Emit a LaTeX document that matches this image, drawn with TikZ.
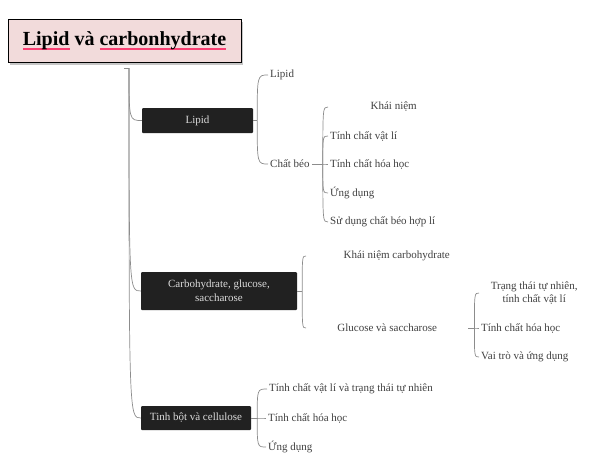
\documentclass[tikz,border=0pt]{standalone}
\usepackage{fontspec}
\setmainfont{Liberation Serif}
\usetikzlibrary{positioning,shadows}
\definecolor{titlepink}{rgb}{0.95, 0.86, 0.86}
\definecolor{spellred}{rgb}{0.98, 0.25, 0.45}
\definecolor{topicdark}{rgb}{0.13, 0.13, 0.13}
\definecolor{branchgray}{rgb}{0.55, 0.55, 0.55}
\definecolor{leafgray}{rgb}{0.25, 0.25, 0.25}
\newcommand\redmark[1]{\setbox0=\hbox{#1}\rlap{\textcolor{spellred}{\rule[-4.8pt]{\wd0}{1.5pt}}}\box0\relax}

\begin{document}
\begin{tikzpicture}[x=1pt,y=-1pt,
  topic/.style={fill=topicdark, text=white!86!black, rounded corners=1pt, inner sep=2pt,
    font=\fontsize{11}{14}\selectfont, align=center},
  leaf/.style={anchor=west, text=leafgray, inner sep=2pt,
    font=\fontsize{11}{13}\selectfont, align=center},
  branch/.style={draw=branchgray, line width=0.7pt}]
  \useasboundingbox (0,0) rectangle (600,475);

  % title
  \node[draw=black, line width=0.8pt, fill=titlepink, minimum width=233, minimum height=43,
    drop shadow={shadow xshift=2pt, shadow yshift=-3pt, opacity=0.45},
    font=\bfseries\fontsize{20}{22}\selectfont] (title) at (124.5,40.5)
    {\redmark{Lipid} và \redmark{carbonhydrate}};

  % trunk
  \coordinate (rootcap) at (124,68);
  \coordinate (root) at (129,68);
  \draw[branch] (rootcap) -- (root);

  \node[topic, minimum width=111, minimum height=25] (lipid) at (197.5,120.5) {Lipid};
  \node[topic, minimum width=156, minimum height=38] (carb) at (219,291) {Carbohydrate, glucose,\\saccharose};
  \node[topic, minimum width=110, minimum height=24] (tinhbot) at (196,418) {Tinh bột và cellulose};

  \foreach \topic in {lipid,carb,tinhbot}
  {
   \draw[branch] (root) .. controls (root |- \topic.west) and (root |- \topic.west) .. (\topic.west);
  }

  % Lipid
  \coordinate[right=4pt of lipid.east] (flipid);
  \node[leaf] (lipidleaf) at (268,75) {Lipid};
  \node[leaf] (chatbeo) at (268,164) {Chất béo};
  \coordinate[right=11pt of chatbeo.east] (fchatbeo);
  \node[leaf, minimum width=131] (khainiem) at (328,107) {Khái niệm};
  \node[leaf] (vatli) at (328,136) {Tính chất vật lí};
  \node[leaf] (hoahoc) at (328,164) {Tính chất hóa học};
  \node[leaf] (ungdung) at (328,193) {Ứng dụng};
  \node[leaf] (sudung) at (328,222) {Sử dụng chất béo hợp lí};

  % Carbohydrate
  \coordinate[right=5pt of carb.east] (fcarb);
  \node[leaf, minimum width=181] (khainiemcarb) at (306,256) {Khái niệm carbohydrate};
  \node[leaf, minimum width=162] (glucose) at (306,328) {Glucose và saccharose};
  \coordinate[right=6pt of glucose.east] (fglucose);
  \node[leaf, minimum width=110] (trangthai) at (479,293) {Trạng thái tự nhiên,\\tính chất vật lí};
  \node[leaf] (hoahocglu) at (479,328) {Tính chất hóa học};
  \node[leaf] (vaitro) at (479,357) {Vai trò và ứng dụng};

  % Tinh bot
  \coordinate[right=6pt of tinhbot.east] (ftinhbot);
  \node[leaf] (vatlitb) at (267,389) {Tính chất vật lí và trạng thái tự nhiên};
  \node[leaf] (hoahoctb) at (266,418) {Tính chất hóa học};
  \node[leaf] (ungdungtb) at (266,447) {Ứng dụng};

  \draw[branch] (lipid.east) -- (flipid);
  \draw[branch] (chatbeo) -- (fchatbeo);
  \draw[branch] (carb.east) -- (fcarb);
  \draw[branch] (glucose) -- (fglucose);
  \draw[branch] (tinhbot.east) -- (ftinhbot);

  \foreach \fork / \leaf in
  {
    flipid/lipidleaf, flipid/chatbeo,
    fchatbeo/khainiem, fchatbeo/vatli, fchatbeo/hoahoc, fchatbeo/ungdung, fchatbeo/sudung,
    fcarb/khainiemcarb, fcarb/glucose,
    fglucose/trangthai, fglucose/hoahocglu, fglucose/vaitro,
    ftinhbot/vatlitb, ftinhbot/hoahoctb, ftinhbot/ungdungtb}
  {
   \draw[branch] (\fork) .. controls (\fork |- \leaf.west) and (\fork |- \leaf.west) .. (\leaf.west);
  }

\end{tikzpicture}
\end{document}
